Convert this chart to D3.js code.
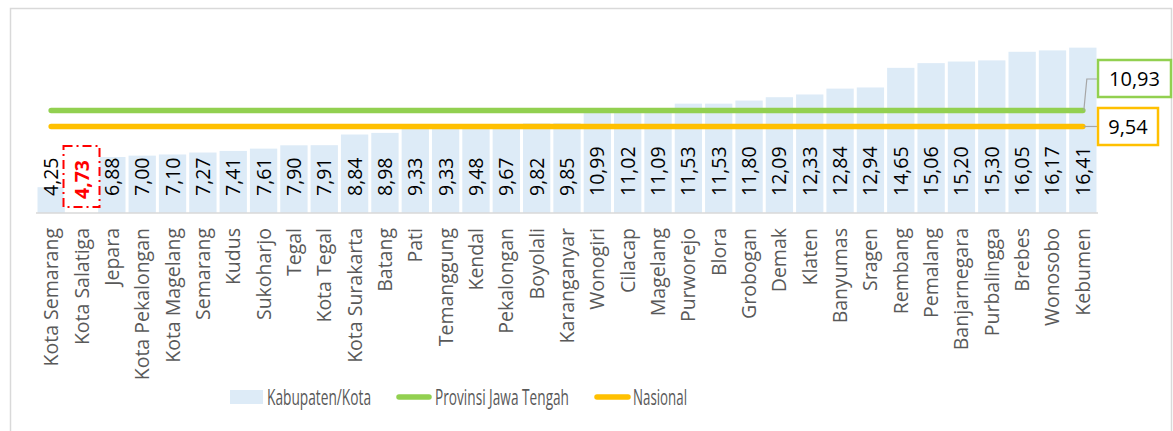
<!DOCTYPE html>
<html>
<head>
<meta charset="utf-8">
<script src="https://cdn.jsdelivr.net/npm/d3@7"></script>
<style>
  html, body { margin: 0; padding: 0; background: #fff; }
  svg { display: block; font-family: "Open Sans", sans-serif; }
</style>
</head>
<body>
<div id="chart"></div>
<script>
// data
const categories = ['Kota Semarang', 'Kota Salatiga', 'Jepara', 'Kota Pekalongan', 'Kota Magelang',
    'Semarang', 'Kudus', 'Sukoharjo', 'Tegal', 'Kota Tegal', 'Kota Surakarta', 'Batang', 'Pati',
    'Temanggung', 'Kendal', 'Pekalongan', 'Boyolali', 'Karanganyar', 'Wonogiri', 'Cilacap',
    'Magelang', 'Purworejo', 'Blora', 'Grobogan', 'Demak', 'Klaten', 'Banyumas', 'Sragen',
    'Rembang', 'Pemalang', 'Banjarnegara', 'Purbalingga', 'Brebes', 'Wonosobo', 'Kebumen'];
const values = [4.25, 4.73, 6.88, 7.00, 7.10, 7.27, 7.41, 7.61, 7.90, 7.91, 8.84, 8.98, 9.33,
    9.33, 9.48, 9.67, 9.82, 9.85, 10.99, 11.02, 11.09, 11.53, 11.53, 11.80, 12.09, 12.33,
    12.84, 12.94, 14.65, 15.06, 15.20, 15.30, 16.05, 16.17, 16.41];
const provinsi = 10.93;
const nasional = 9.54;
const highlight = 'Kota Salatiga';
const legendLabels = ['Kabupaten/Kota', 'Provinsi Jawa Tengah', 'Nasional'];

const W = 1173, H = 431;
const barColor = '#DDEBF7';
const green = '#92D050';
const orange = '#FFC000';
const fmt = v => d3.format('.2f')(v).replace('.', ',');

const data = categories.map((c, i) => ({ name: c, value: values[i] }));

const svg = d3.select('#chart').append('svg')
    .attr('width', W)
    .attr('height', H);

svg.append('rect')
    .attr('x', 10.5).attr('y', 8.5)
    .attr('width', 1161).attr('height', 440)
    .attr('fill', '#fff')
    .attr('stroke', '#d9d9d9')
    .attr('stroke-width', 1.5);

const x = d3.scaleBand().domain(categories).range([36, 1098]).paddingInner(0.1).paddingOuter(0.05);
const y = d3.scaleLinear().domain([2, 18]).range([213, 29.4]);
const cx = d => x(d) + x.bandwidth() / 2;

// bars
svg.append('g').selectAll('rect')
    .data(data)
    .join('rect')
    .attr('x', d => x(d.name))
    .attr('y', d => y(d.value))
    .attr('width', x.bandwidth())
    .attr('height', d => y(2) - y(d.value))
    .attr('fill', d => d.name === highlight ? '#fff' : barColor);

// base axis line
svg.append('line')
    .attr('x1', 36).attr('x2', 1098)
    .attr('y1', y(2)).attr('y2', y(2))
    .attr('stroke', '#d9d9d9')
    .attr('stroke-width', 1.5);

// reference lines
const refs = [
    { value: provinsi, color: green, boxY: 60, boxW: 73 },
    { value: nasional, color: orange, boxY: 108, boxW: 60 }
];
const first = categories[0], last = categories[categories.length - 1];
svg.append('g').selectAll('line')
    .data(refs)
    .join('line')
    .attr('x1', cx(first))
    .attr('x2', cx(last))
    .attr('y1', d => y(d.value))
    .attr('y2', d => y(d.value))
    .attr('stroke', d => d.color)
    .attr('stroke-width', 5.5)
    .attr('stroke-linecap', 'round');

// callouts for the reference lines
refs.forEach(r => {
    const lx = cx(last) + 1, ly = y(r.value);
    const boxMid = r.boxY + 19;
    svg.append('path')
        .attr('d', Math.abs(boxMid - ly) > 3
            ? `M${lx},${ly}L${lx + 3},${boxMid}L1097,${boxMid}`
            : `M${lx},${ly}L1097,${ly}`)
        .attr('fill', 'none')
        .attr('stroke', '#a6a6a6')
        .attr('stroke-width', 1.2);
    svg.append('rect')
        .attr('x', 1098).attr('y', r.boxY)
        .attr('width', r.boxW).attr('height', 37)
        .attr('fill', '#fff')
        .attr('stroke', r.color)
        .attr('stroke-width', 2.5);
    svg.append('text')
        .attr('x', 1098 + r.boxW / 2).attr('y', r.boxY + 26)
        .attr('text-anchor', 'middle')
        .attr('font-size', 20)
        .attr('fill', '#000')
        .text(fmt(r.value));
});

// highlighted label box
svg.append('rect')
    .attr('x', cx(highlight) - 18).attr('y', 146)
    .attr('width', 36).attr('height', 61)
    .attr('fill', '#fff')
    .attr('stroke', '#ff0000')
    .attr('stroke-width', 2)
    .attr('stroke-dasharray', '9,4,2,4');

// value labels
svg.append('g').selectAll('text')
    .data(data)
    .join('text')
    .attr('transform', d => `translate(${cx(d.name) + 7},${d.name === highlight ? 199 : 196}) rotate(-90)`)
    .attr('font-size', 19.5)
    .attr('font-weight', d => d.name === highlight ? 'bold' : 'normal')
    .attr('fill', d => d.name === highlight ? '#ff0000' : '#000')
    .text(d => fmt(d.value));

// category labels
svg.append('g').selectAll('text')
    .data(categories)
    .join('text')
    .attr('transform', d => `translate(${cx(d) + 7},228) rotate(-90)`)
    .attr('text-anchor', 'end')
    .attr('font-size', 19.5)
    .attr('fill', '#595959')
    .text(d => d);

// legend
const legend = svg.append('g');
const ly = 397;
legend.append('rect')
    .attr('x', 230).attr('y', ly - 7)
    .attr('width', 33).attr('height', 14)
    .attr('fill', barColor);
legend.append('line')
    .attr('x1', 399).attr('x2', 429).attr('y1', ly).attr('y2', ly)
    .attr('stroke', green).attr('stroke-width', 5.5).attr('stroke-linecap', 'round');
legend.append('line')
    .attr('x1', 597).attr('x2', 628).attr('y1', ly).attr('y2', ly)
    .attr('stroke', orange).attr('stroke-width', 5.5).attr('stroke-linecap', 'round');

const legendText = [
    { x: 267, w: 104 },
    { x: 435, w: 134 },
    { x: 633, w: 54 }
];
legend.selectAll('text')
    .data(legendLabels)
    .join('text')
    .attr('x', (d, i) => legendText[i].x)
    .attr('y', ly + 8)
    .attr('font-size', 21)
    .attr('fill', '#595959')
    .attr('textLength', (d, i) => legendText[i].w)
    .attr('lengthAdjust', 'spacingAndGlyphs')
    .text(d => d);
</script>
</body>
</html>
